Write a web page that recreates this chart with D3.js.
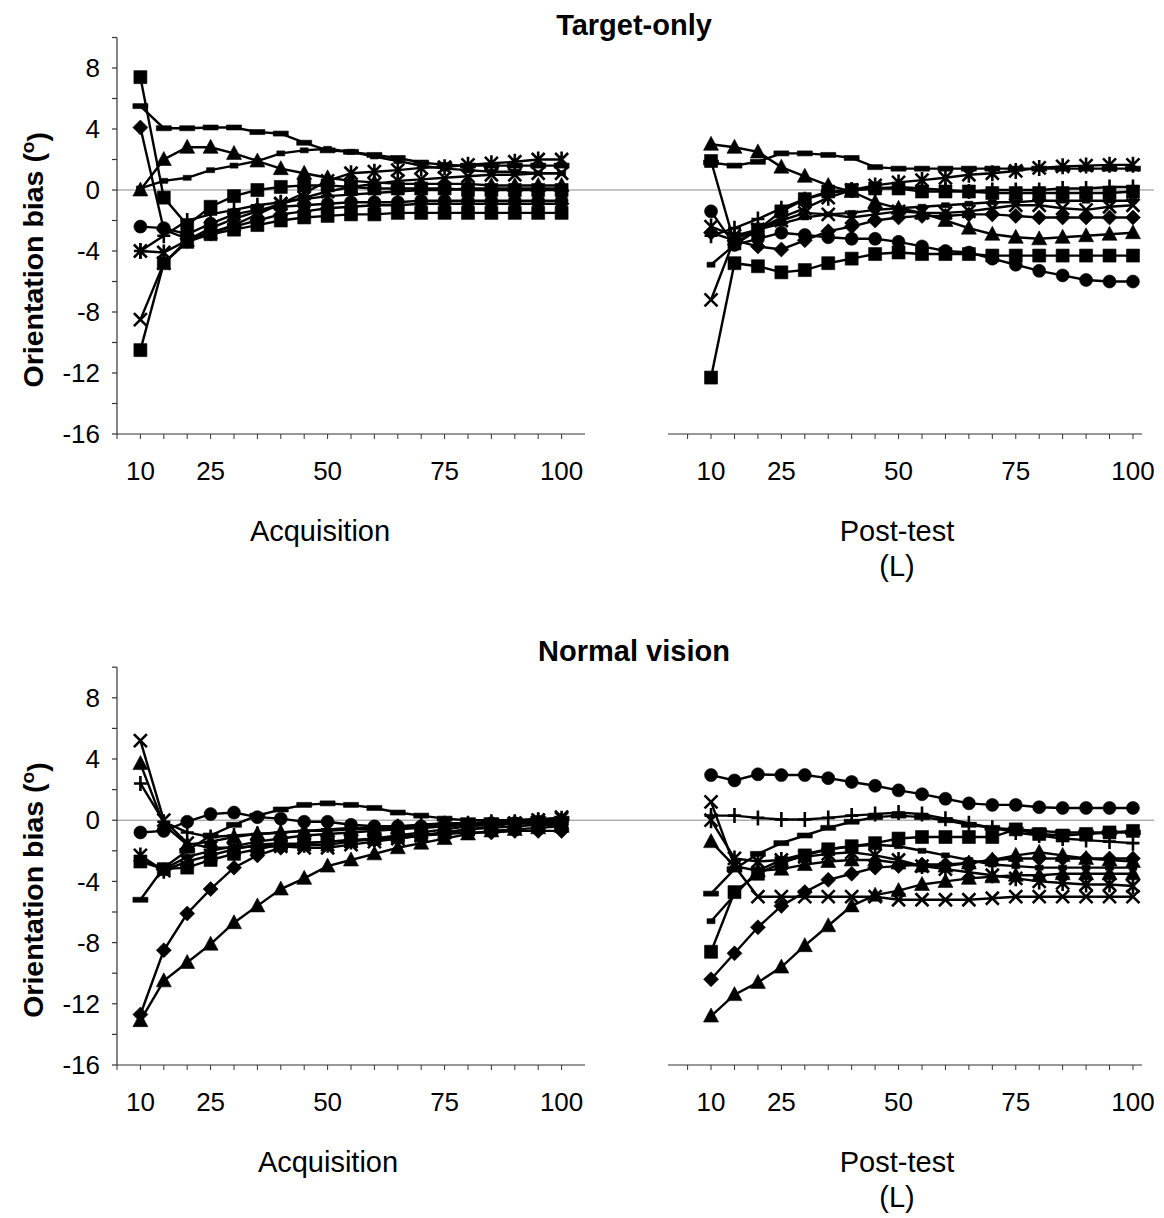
<!DOCTYPE html>
<html><head><meta charset="utf-8">
<script src="https://cdn.jsdelivr.net/npm/d3@7"></script>
<style>body{margin:0;background:#fff}</style>
</head><body>
<svg id="chart" width="1164" height="1218"></svg>
<script>
// ---------- data ----------
const trials = [10,15,20,25,30,35,40,45,50,55,60,65,70,75,80,85,90,95,100];
const axisTicks = [5,10,15,20,25,30,35,40,45,50,55,60,65,70,75,80,85,90,95,100];
const xTickLabels = [10,25,50,75,100];
const yTickLabels = [8,4,0,-4,-8,-12,-16];
const yMinorTicks = [10,8,6,4,2,0,-2,-4,-6,-8,-10,-12,-14,-16];
const panelTitles = ["Target-only","Normal vision"];
const xTitles = ["Acquisition","Post-test"];
const yTitle = "Orientation bias (";

// Target-only, Acquisition
const toAcqSquareA   = [7.4,-0.5,-2.3,-1.1,-0.4,0.0,0.2,0.3,0.3,0.2,0.1,0.1,0.1,0.1,0.0,0.0,0.0,0.0,0.0];
const toAcqLongDash  = [5.5,4.05,4.05,4.1,4.1,3.8,3.7,3.1,2.6,2.5,2.3,2.1,1.8,1.65,1.6,1.6,1.6,1.6,1.6];
const toAcqDiamond   = [4.1,-2.6,-3.2,-2.8,-2.4,-2.0,-1.6,-1.4,-1.2,-1.1,-1.0,-1.0,-0.9,-0.9,-0.9,-0.9,-0.9,-0.9,-0.9];
const toAcqTriangle  = [0.0,2.0,2.8,2.8,2.4,1.9,1.4,1.1,0.8,0.6,0.5,0.4,0.4,0.4,0.4,0.3,0.3,0.3,0.3];
const toAcqShortDash = [0.1,0.6,0.8,1.3,1.6,1.9,2.4,2.6,2.7,2.5,2.2,1.9,1.6,1.4,1.3,1.2,1.2,1.1,1.1];
const toAcqCircle    = [-2.4,-2.5,-2.9,-2.2,-1.6,-1.3,-1.1,-1.0,-0.9,-0.8,-0.8,-0.8,-0.7,-0.7,-0.7,-0.7,-0.7,-0.7,-0.7];
const toAcqAsterisk  = [-4.0,-4.1,-3.3,-2.8,-2.3,-1.6,-0.9,-0.2,0.6,1.1,1.2,1.3,1.45,1.5,1.65,1.75,1.85,2.0,2.0];
const toAcqX         = [-8.5,-4.8,-3.3,-2.5,-1.9,-1.4,-0.9,-0.5,-0.1,0.2,0.4,0.6,0.7,0.8,0.9,1.0,1.0,1.1,1.1];
const toAcqPlus      = [-4.0,-3.0,-2.0,-1.6,-1.3,-1.0,-0.8,-0.6,-0.4,-0.3,-0.2,-0.1,0.0,0.0,0.1,0.1,0.1,0.1,0.1];
const toAcqSquareB   = [-10.5,-4.8,-3.4,-2.9,-2.6,-2.3,-2.0,-1.8,-1.7,-1.6,-1.6,-1.5,-1.5,-1.5,-1.5,-1.5,-1.5,-1.5,-1.5];

// Target-only, Post-test (L)
const toPostTriangle  = [3.0,2.8,2.5,1.5,0.9,0.3,-0.1,-0.8,-1.2,-1.5,-2.0,-2.5,-2.9,-3.1,-3.2,-3.1,-3.0,-2.9,-2.8];
const toPostLongDash  = [1.8,1.6,1.85,2.4,2.4,2.3,2.1,1.5,1.4,1.4,1.4,1.4,1.4,1.4,1.4,1.4,1.4,1.4,1.4];
const toPostSquareA   = [1.9,-3.5,-2.6,-1.4,-0.6,-0.1,0.0,0.1,0.1,-0.1,-0.1,-0.1,-0.2,-0.2,-0.2,-0.2,-0.2,-0.2,-0.1];
const toPostAsterisk  = [-2.4,-3.0,-2.6,-1.8,-1.2,-0.5,0.0,0.3,0.5,0.65,0.8,1.0,1.1,1.25,1.45,1.55,1.6,1.65,1.65];
const toPostCircle    = [-1.4,-3.6,-3.2,-2.8,-2.95,-3.1,-3.2,-3.2,-3.4,-3.7,-4.0,-4.1,-4.5,-4.9,-5.3,-5.6,-5.9,-6.0,-6.0];
const toPostSquareB   = [-12.3,-4.8,-5.0,-5.4,-5.25,-4.8,-4.5,-4.2,-4.1,-4.2,-4.2,-4.2,-4.3,-4.3,-4.3,-4.3,-4.3,-4.3,-4.3];
const toPostDiamond   = [-2.8,-3.3,-3.7,-3.9,-3.3,-2.7,-2.4,-2.0,-1.8,-1.7,-1.7,-1.6,-1.6,-1.7,-1.8,-1.8,-1.8,-1.8,-1.8];
const toPostX         = [-7.2,-3.2,-2.6,-2.0,-1.5,-1.6,-1.8,-1.6,-1.4,-1.5,-1.5,-1.4,-1.2,-1.0,-1.0,-1.2,-1.3,-1.1,-1.0];
const toPostShortDash = [-4.9,-3.6,-2.6,-2.2,-1.8,-1.6,-1.5,-1.3,-1.2,-1.1,-1.0,-0.9,-0.8,-0.8,-0.7,-0.7,-0.7,-0.7,-0.7];
const toPostPlus      = [-3.0,-2.5,-1.9,-1.2,-0.6,-0.2,0.0,0.1,0.2,0.1,0.0,-0.1,0.0,0.0,0.0,0.1,0.1,0.2,0.2];

// Normal vision, Acquisition
const nvAcqX         = [5.2,0.0,-1.5,-1.8,-1.8,-1.7,-1.7,-1.8,-1.8,-1.6,-1.4,-1.2,-1.0,-0.8,-0.6,-0.4,-0.2,0.0,0.2];
const nvAcqTriangleA = [3.7,-0.3,-1.6,-1.4,-1.1,-0.9,-0.8,-0.7,-0.7,-0.6,-0.6,-0.5,-0.5,-0.4,-0.3,-0.3,-0.2,-0.2,-0.2];
const nvAcqPlus      = [2.4,-0.1,-0.8,-1.1,-1.0,-0.9,-0.8,-0.7,-0.6,-0.5,-0.5,-0.4,-0.3,-0.2,-0.2,-0.1,-0.1,0.0,0.0];
const nvAcqCircle    = [-0.8,-0.7,-0.1,0.4,0.5,0.2,0.1,-0.1,-0.1,-0.3,-0.4,-0.4,-0.4,-0.3,-0.3,-0.2,-0.2,-0.1,-0.1];
const nvAcqAsterisk  = [-2.3,-3.3,-2.7,-2.3,-1.9,-1.6,-1.5,-1.6,-1.6,-1.4,-1.2,-1.0,-0.8,-0.6,-0.4,-0.3,-0.2,0.0,0.1];
const nvAcqSquare    = [-2.7,-3.2,-3.1,-2.6,-2.2,-1.9,-1.6,-1.5,-1.4,-1.3,-1.2,-1.1,-1.0,-0.8,-0.6,-0.5,-0.4,-0.3,-0.3];
const nvAcqShortDash = [-2.6,-3.2,-2.4,-2.0,-1.7,-1.4,-1.2,-1.0,-0.9,-0.8,-0.7,-0.6,-0.5,-0.4,-0.3,-0.3,-0.2,-0.2,-0.2];
const nvAcqLongDash  = [-5.2,-3.1,-2.0,-1.0,-0.3,0.3,0.7,1.0,1.1,1.0,0.8,0.5,0.3,0.1,0.0,0.0,0.0,0.1,0.1];
const nvAcqDiamond   = [-12.7,-8.5,-6.1,-4.5,-3.1,-2.3,-1.8,-1.5,-1.4,-1.3,-1.3,-1.2,-1.0,-0.9,-0.8,-0.8,-0.7,-0.7,-0.7];
const nvAcqTriangleB = [-13.1,-10.5,-9.3,-8.1,-6.7,-5.6,-4.5,-3.8,-3.0,-2.6,-2.2,-1.8,-1.5,-1.2,-0.9,-0.7,-0.6,-0.5,-0.4];

// Normal vision, Post-test (L)
const nvPostCircle    = [2.95,2.6,3.0,2.95,2.95,2.75,2.5,2.25,1.95,1.7,1.4,1.1,1.0,1.0,0.85,0.8,0.8,0.8,0.8];
const nvPostX         = [1.2,-3.0,-5.0,-5.0,-5.0,-5.0,-5.0,-5.0,-5.2,-5.2,-5.2,-5.2,-5.1,-5.0,-5.0,-5.0,-5.0,-5.0,-5.0];
const nvPostPlus      = [0.3,0.3,0.15,0.05,0.05,0.15,0.3,0.4,0.5,0.4,0.1,-0.2,-0.5,-0.8,-1.0,-1.2,-1.3,-1.4,-1.5];
const nvPostTriangleA = [-1.4,-3.0,-3.3,-3.2,-2.9,-2.7,-2.6,-2.6,-2.8,-3.0,-3.0,-2.8,-2.6,-2.3,-2.1,-2.3,-2.5,-2.6,-2.7];
const nvPostLongDash  = [-4.8,-3.2,-2.2,-1.5,-1.0,-0.5,-0.1,0.2,0.3,0.2,0.0,-0.3,-0.5,-0.6,-0.7,-0.8,-0.8,-0.8,-0.8];
const nvPostShortDash = [-6.6,-4.9,-3.3,-2.6,-2.2,-1.9,-1.7,-1.6,-1.7,-2.0,-2.3,-2.6,-2.9,-3.0,-3.1,-3.1,-3.1,-3.1,-3.1];
const nvPostSquare    = [-8.6,-4.7,-3.5,-2.8,-2.3,-1.9,-1.7,-1.5,-1.2,-1.1,-1.1,-1.1,-1.1,-0.6,-0.9,-1.0,-0.9,-0.8,-0.7];
const nvPostAsterisk  = [0.0,-2.5,-2.7,-2.6,-2.4,-2.2,-2.1,-2.3,-2.6,-3.0,-3.2,-3.4,-3.6,-3.8,-4.0,-4.1,-4.2,-4.2,-4.3];
const nvPostDiamond   = [-10.4,-8.7,-7.0,-5.6,-4.7,-3.9,-3.5,-3.1,-3.0,-2.9,-2.9,-2.8,-2.6,-2.5,-2.5,-2.5,-2.5,-2.5,-2.5];
const nvPostTriangleB = [-12.8,-11.4,-10.6,-9.6,-8.2,-6.9,-5.6,-4.9,-4.6,-4.2,-4.0,-3.8,-3.7,-3.6,-3.6,-3.5,-3.5,-3.5,-3.5];

// ---------- layout ----------
const FONT = "'Liberation Sans', Arial, Helvetica, sans-serif";
const svg = d3.select("#chart");

const rows = [
  {title: panelTitles[0], titleY: 25, yBottom: 434, unit: 15.25, acqX: 320,
   left: [["square",toAcqSquareA],["longdash",toAcqLongDash],["diamond",toAcqDiamond],["triangle",toAcqTriangle],
          ["shortdash",toAcqShortDash],["circle",toAcqCircle],["asterisk",toAcqAsterisk],["x",toAcqX],
          ["plus",toAcqPlus],["square",toAcqSquareB]],
   right: [["triangle",toPostTriangle],["longdash",toPostLongDash],["square",toPostSquareA],["asterisk",toPostAsterisk],
           ["circle",toPostCircle],["square",toPostSquareB],["diamond",toPostDiamond],["x",toPostX],
           ["shortdash",toPostShortDash],["plus",toPostPlus]]},
  {title: panelTitles[1], titleY: 651, yBottom: 1065, unit: 15.3, acqX: 328,
   left: [["x",nvAcqX],["triangle",nvAcqTriangleA],["plus",nvAcqPlus],["circle",nvAcqCircle],["asterisk",nvAcqAsterisk],
          ["square",nvAcqSquare],["shortdash",nvAcqShortDash],["longdash",nvAcqLongDash],["diamond",nvAcqDiamond],
          ["triangle",nvAcqTriangleB]],
   right: [["circle",nvPostCircle],["x",nvPostX],["plus",nvPostPlus],["triangle",nvPostTriangleA],["longdash",nvPostLongDash],
           ["shortdash",nvPostShortDash],["square",nvPostSquare],["asterisk",nvPostAsterisk],["diamond",nvPostDiamond],
           ["triangle",nvPostTriangleB]]}
];

const xLeft  = d3.scaleLinear().domain([5,105]).range([117,585]);
const xRight = d3.scaleLinear().domain([5,105]).range([687.6,1156.4]);

function markerPath(type){
  switch(type){
    case "square": return {d:"M-6.5,-6.5H6.5V6.5H-6.5Z", fill:true};
    case "diamond": return {d:"M0,-7.5L7.5,0L0,7.5L-7.5,0Z", fill:true};
    case "triangle": return {d:"M0,-8L7.5,6L-7.5,6Z", fill:true};
    case "circle": return {d:"M6.5,0A6.5,6.5 0 1,1 -6.5,0A6.5,6.5 0 1,1 6.5,0Z", fill:true};
    case "longdash": return {d:"M-7.5,-2.5H7.5V2.5H-7.5Z", fill:true};
    case "shortdash": return {d:"M-4,-2.5H4V2.5H-4Z", fill:true};
    case "x": return {d:"M-6.5,-6.5L6.5,6.5M-6.5,6.5L6.5,-6.5", fill:false};
    case "asterisk": return {d:"M-6.5,-6.5L6.5,6.5M-6.5,6.5L6.5,-6.5M0,-8V8", fill:false};
    case "plus": return {d:"M-6.5,0H6.5M0,-7.5V7.5", fill:false};
  }
}

rows.forEach(row => {
  const y = d3.scaleLinear().domain([-16,10]).range([row.yBottom, row.yBottom - 26*row.unit]);

  // panel title
  svg.append("text").attr("x",634).attr("y",row.titleY).attr("dy","0.35em")
    .attr("text-anchor","middle").attr("font-family",FONT).attr("font-weight","bold")
    .attr("font-size",29).text(row.title);

  // y title
  const yt = svg.append("text")
    .attr("transform",`translate(33,${(y(10)+y(-16))/2 + 24}) rotate(-90)`)
    .attr("text-anchor","middle").attr("dy","0.35em")
    .attr("font-family",FONT).attr("font-weight","bold").attr("font-size",28.5);
  yt.append("tspan").text(yTitle);
  yt.append("tspan").attr("dy","-0.45em").attr("font-size",19).text("o");
  yt.append("tspan").attr("dy","0.45em").text(")");

  // zero line
  svg.append("line").attr("x1",xLeft(5)).attr("x2",xRight(104.5))
    .attr("y1",y(0)).attr("y2",y(0)).attr("stroke","#8a8a8a").attr("stroke-width",1);

  // left y axis
  const ga = svg.append("g");
  ga.append("line").attr("x1",xLeft(5)).attr("x2",xLeft(5)).attr("y1",y(10)).attr("y2",y(-16))
    .attr("stroke","#333").attr("stroke-width",1.2);
  ga.selectAll("line.yt").data(yMinorTicks).enter().append("line")
    .attr("x1",xLeft(5)-5).attr("x2",xLeft(5)).attr("y1",d=>y(d)).attr("y2",d=>y(d))
    .attr("stroke","#333").attr("stroke-width",1.2);
  ga.selectAll("text.yl").data(yTickLabels).enter().append("text")
    .attr("x",100).attr("y",d=>y(d)).attr("dy","0.35em").attr("text-anchor","end")
    .attr("font-family",FONT).attr("font-size",26).text(d=>d);

  [[xLeft,row.left,xLeft(5),xLeft(105),xTitles[0],false],
   [xRight,row.right,668,1142,xTitles[1],true]].forEach(([xs,series,x0,x1,xt,isPost]) => {
    const g = svg.append("g");
    g.append("line").attr("x1",x0).attr("x2",x1).attr("y1",y(-16)).attr("y2",y(-16))
      .attr("stroke","#333").attr("stroke-width",1.2);
    g.selectAll("line.xt").data(axisTicks).enter().append("line")
      .attr("x1",d=>xs(d)).attr("x2",d=>xs(d)).attr("y1",y(-16)).attr("y2",y(-16)+5)
      .attr("stroke","#333").attr("stroke-width",1);
    g.selectAll("text.xl").data(xTickLabels).enter().append("text")
      .attr("x",d=>xs(d)).attr("y",y(-16)+37).attr("dy","0.35em").attr("text-anchor","middle")
      .attr("font-family",FONT).attr("font-size",26).text(d=>d);
    const cx = isPost ? 897 : row.acqX;
    g.append("text").attr("x",cx).attr("y",y(-16)+97).attr("dy","0.35em").attr("text-anchor","middle")
      .attr("font-family",FONT).attr("font-size",29).text(xt);
    if (isPost) {
      g.append("text").attr("x",cx).attr("y",y(-16)+132).attr("dy","0.35em").attr("text-anchor","middle")
        .attr("font-family",FONT).attr("font-size",29).text("(L)");
    }

    const line = d3.line().x((d,i)=>xs(trials[i])).y(d=>y(d));
    series.forEach(([type,vals]) => {
      const sg = g.append("g");
      sg.append("path").attr("d",line(vals)).attr("fill","none").attr("stroke","#000").attr("stroke-width",2.4);
      const m = markerPath(type);
      sg.selectAll("path.m").data(vals).enter().append("path")
        .attr("transform",(d,i)=>`translate(${xs(trials[i])},${y(d)})`)
        .attr("d",m.d)
        .attr("fill",m.fill?"#000":"none")
        .attr("stroke","#000").attr("stroke-width",m.fill?0.6:2.6);
    });
  });
});
</script>
</body></html>
